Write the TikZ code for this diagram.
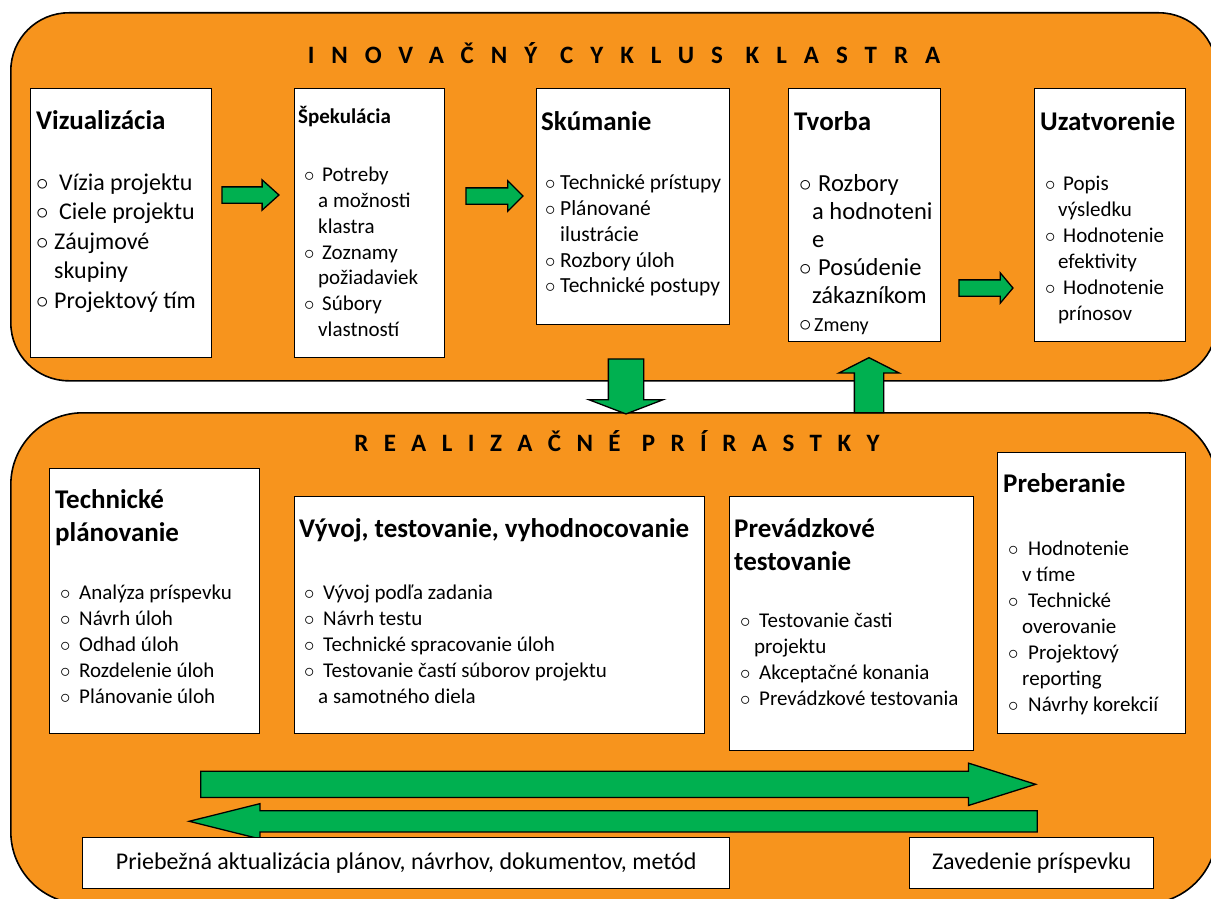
\documentclass[tikz,border=0pt]{standalone}
\usepackage{fontspec}
\setmainfont{Carlito}
\usepackage{tikz}
\usetikzlibrary{calc}
\usetikzlibrary{positioning}
\usetikzlibrary{shapes.arrows}
\definecolor{panelorange}{RGB}{247,148,29}
\definecolor{flowgreen}{RGB}{0,176,80}
\tikzstyle{panel} = [draw, line width=1.6pt, fill=panelorange, anchor=north west, inner sep=0]
\tikzstyle{bandtitle} = [inner sep=0, font=\bfseries\fontsize{25}{30}\selectfont\addfontfeatures{LetterSpace=68}]
\tikzstyle{stagebox} = [draw, line width=1.3pt, fill=white, anchor=north west, inner sep=0]
\tikzstyle{stagetitle} = [anchor=base west, inner sep=0, font=\bfseries\fontsize{27}{33}\selectfont]
\tikzstyle{itemlist} = [anchor=base west, inner sep=0, font=\fontsize{21}{26}\selectfont]
\tikzstyle{notebox} = [draw, line width=1.3pt, fill=white, anchor=north west, inner sep=0, font=\fontsize{24}{28}\selectfont]
\tikzstyle{flowarrow} = [draw, line width=1.3pt, fill=flowgreen, single arrow, anchor=tail, inner xsep=0]
\newcommand{\bitem}[2][18pt]{\makebox[#1][l]{$\circ$}#2}
\newcommand{\citem}[2][14pt]{\hspace*{#1}#2}

\begin{document}
\begin{tikzpicture}[x=1pt, y=-1pt]
    \useasboundingbox (0,0) rectangle (1211,899);

    \node[panel, rounded corners=58, minimum width=1206, minimum height=368] (cycle_panel) at (10,12) {};
    \node[panel, rounded corners=72, minimum width=1206, minimum height=491] (incr_panel) at (10,412) {};
    \node[bandtitle] (cycle_title) at (624,53) {INOVAČNÝ CYKLUS KLASTRA};
    \node[bandtitle, font=\bfseries\fontsize{25}{30}\selectfont\addfontfeatures{LetterSpace=62}] (incr_title) at (617,441) {REALIZAČNÉ PRÍRASTKY};

    % inovacny cyklus
    \node[stagebox, minimum width=181, minimum height=269] (viz) at (30,88) {};
    \node[stagetitle] (viz_title) at ($(viz.north west)+(6,41)$) {Vizualizácia};
    \node[itemlist, font=\fontsize{24}{29.5}\selectfont] (viz_items) at ($(viz.north west)+(6,102)$) {\begin{tabular}[t]{@{}l@{}}
        \bitem[23pt]{Vízia projektu}\\ \bitem[23pt]{Ciele projektu}\\ \bitem{Záujmové}\\ \citem[18pt]{skupiny}\\ \bitem{Projektový tím}
    \end{tabular}};

    \node[stagebox, minimum width=150, minimum height=269] (spek) at (294,88) {};
    \node[stagetitle, font=\bfseries\fontsize{21}{26}\selectfont] (spek_title) at ($(spek.north west)+(4,36)$) {Špekulácia};
    \node[itemlist, font=\fontsize{21}{26}\selectfont] (spek_items) at ($(spek.north west)+(10,93)$) {\begin{tabular}[t]{@{}l@{}}
        \bitem{Potreby}\\ \citem{a možnosti}\\ \citem{klastra}\\ \bitem{Zoznamy}\\ \citem{požiadaviek}\\ \bitem{Súbory}\\ \citem{vlastností}
    \end{tabular}};

    \node[stagebox, minimum width=193, minimum height=236] (skum) at (536,88) {};
    \node[stagetitle] (skum_title) at ($(skum.north west)+(5,42)$) {Skúmanie};
    \node[itemlist, font=\fontsize{21.5}{26}\selectfont] (skum_items) at ($(skum.north west)+(9,101)$) {\begin{tabular}[t]{@{}l@{}}
        \bitem[15pt]{Technické prístupy}\\ \bitem[15pt]{Plánované}\\ \citem[15pt]{ilustrácie}\\ \bitem[15pt]{Rozbory úloh}\\ \bitem[15pt]{Technické postupy}
    \end{tabular}};

    \node[stagebox, minimum width=152, minimum height=253] (tvor) at (788,88) {};
    \node[stagetitle] (tvor_title) at ($(tvor.north west)+(6,42)$) {Tvorba};
    \node[itemlist, font=\fontsize{24.5}{28}\selectfont] (tvor_items) at ($(tvor.north west)+(11,103)$) {\begin{tabular}[t]{@{}l@{}}
        \bitem[19pt]{Rozbory}\\ \citem[13pt]{a hodnoteni}\\ \citem[13pt]{e}\\ \bitem[19pt]{Posúdenie}\\ \citem[13pt]{zákazníkom}\\ \bitem[15pt]{\fontsize{20}{26}\selectfont Zmeny}
    \end{tabular}};

    \node[stagebox, minimum width=151, minimum height=253] (uzat) at (1034,88) {};
    \node[stagetitle] (uzat_title) at ($(uzat.north west)+(6,42)$) {Uzatvorenie};
    \node[itemlist] (uzat_items) at ($(uzat.north west)+(11,102)$) {\begin{tabular}[t]{@{}l@{}}
        \bitem{Popis}\\ \citem[13pt]{výsledku}\\ \bitem{Hodnotenie}\\ \citem[13pt]{efektivity}\\ \bitem{Hodnotenie}\\ \citem[13pt]{prínosov}
    \end{tabular}};

    \node[flowarrow, minimum height=57, inner ysep=7.5, single arrow head extend=7, single arrow tip angle=84] (arr_viz_spek) at ($(viz.north east)+(9,107)$) {};
    \node[flowarrow, minimum height=57, inner ysep=7.5, single arrow head extend=7, single arrow tip angle=90] (arr_spek_skum) at ($(spek.north east)+(20,108)$) {};
    \node[flowarrow, minimum height=54, inner ysep=7.5, single arrow head extend=7, single arrow tip angle=100] (arr_tvor_uzat) at ($(tvor.north east)+(17,200)$) {};

    % realizacne prirastky
    \node[stagebox, minimum width=210, minimum height=265] (tplan) at (49,468) {};
    \node[stagetitle] (tplan_title) at ($(tplan.north west)+(6,40)$) {\begin{tabular}[t]{@{}l@{}}Technické\\ plánovanie\end{tabular}};
    \node[itemlist] (tplan_items) at ($(tplan.north west)+(11,131)$) {\begin{tabular}[t]{@{}l@{}}
        \bitem[19pt]{Analýza príspevku}\\ \bitem[19pt]{Návrh úloh}\\ \bitem[19pt]{Odhad úloh}\\ \bitem[19pt]{Rozdelenie úloh}\\ \bitem[19pt]{Plánovanie úloh}
    \end{tabular}};

    \node[stagebox, minimum width=410, minimum height=237] (vyvoj) at (294,496) {};
    \node[stagetitle] (vyvoj_title) at ($(vyvoj.north west)+(5,41)$) {Vývoj, testovanie, vyhodnocovanie};
    \node[itemlist] (vyvoj_items) at ($(vyvoj.north west)+(10,103)$) {\begin{tabular}[t]{@{}l@{}}
        \bitem[19pt]{Vývoj podľa zadania}\\ \bitem[19pt]{Návrh testu}\\ \bitem[19pt]{Technické spracovanie úloh}\\ \bitem[19pt]{Testovanie častí súborov projektu}\\ \citem{a samotného diela}
    \end{tabular}};

    \node[stagebox, minimum width=244, minimum height=254] (prev) at (729,496) {};
    \node[stagetitle] (prev_title) at ($(prev.north west)+(5,41)$) {\begin{tabular}[t]{@{}l@{}}Prevádzkové\\ testovanie\end{tabular}};
    \node[itemlist] (prev_items) at ($(prev.north west)+(11,131)$) {\begin{tabular}[t]{@{}l@{}}
        \bitem[19pt]{Testovanie časti}\\ \citem{projektu}\\ \bitem[19pt]{Akceptačné konania}\\ \bitem[19pt]{Prevádzkové testovania}
    \end{tabular}};

    \node[stagebox, minimum width=188, minimum height=281] (preb) at (997,452) {};
    \node[stagetitle] (preb_title) at ($(preb.north west)+(6,40)$) {Preberanie};
    \node[itemlist] (preb_items) at ($(preb.north west)+(11,103)$) {\begin{tabular}[t]{@{}l@{}}
        \bitem[20pt]{Hodnotenie}\\ \citem{v tíme}\\ \bitem[20pt]{Technické}\\ \citem{overovanie}\\ \bitem[20pt]{Projektový}\\ \citem{reporting}\\ \bitem[20pt]{Návrhy korekcií}
    \end{tabular}};

    \node[flowarrow, minimum height=835, inner ysep=12.5, single arrow head extend=8, single arrow tip angle=35] (arr_forward) at ($(tplan.south west)+(151,50)$) {};
    \node[flowarrow, rotate=180, minimum height=848, inner ysep=10, single arrow head extend=7, single arrow tip angle=28] (arr_back) at ($(arr_forward.tip)+(0,37)$) {};

    \node[notebox, minimum width=647, minimum height=51] (upd_note) at (82,837) {Priebežná aktualizácia plánov, návrhov, dokumentov, metód};
    \node[notebox, minimum width=244, minimum height=51] (intro_note) at (909,837) {Zavedenie príspevku};

    % medzi cyklom a prirastkami
    \node[flowarrow, rotate=-90, minimum height=55, inner ysep=17, single arrow head extend=19.5, single arrow tip angle=138] (arr_down) at ($(skum.south west)+(90,33)$) {};
    \node[flowarrow, rotate=90, minimum height=55, inner ysep=14, single arrow head extend=15.5, single arrow tip angle=126] (arr_up) at ($(tvor.south west)+(81,71)$) {};
\end{tikzpicture}
\end{document}
